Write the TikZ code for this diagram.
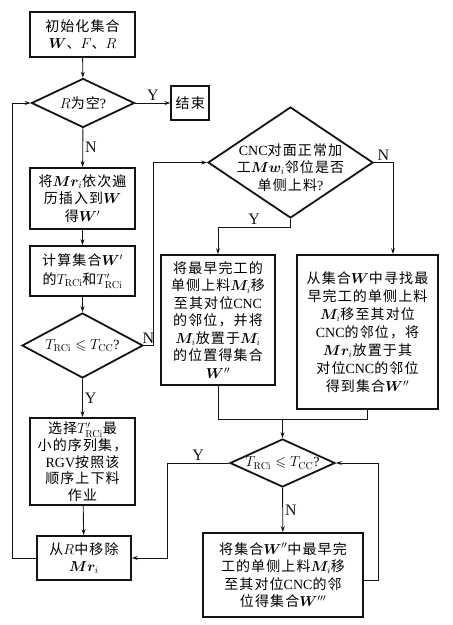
\documentclass[tikz,border=0pt]{standalone}
\usepackage{amsmath,amssymb,bm}
\usepackage[no-math]{fontspec}
\setmainfont[LetterSpace=8]{Noto Sans CJK SC}
\newfontfamily\lat{Liberation Serif}
\usepackage{tikz}
\usetikzlibrary{positioning,arrows.meta,shapes.geometric}
\definecolor{ink}{RGB}{20,20,20}
\newcommand{\boxfont}{\fontsize{14}{17.5}\selectfont}
\newcommand{\CNC}{{\lat CNC}}
\newcommand{\Trc}{T_{\mathrm{RCi}}}

\begin{document}
\begin{tikzpicture}[
  x=1pt, y=-1pt,
  >={Stealth[length=6pt, width=4pt]},
  box/.style={draw=ink, line width=1.8pt, align=center, inner sep=2pt, font=\boxfont},
  dia/.style={diamond, draw=ink, line width=1.8pt, inner sep=0pt},
  txt/.style={align=center, font=\boxfont, inner sep=0pt},
  con/.style={->, line width=0.9pt, ink},
  lin/.style={line width=0.9pt, ink},
  lab/.style={font=\lat\fontsize{16}{18}\selectfont, text=ink, inner sep=2pt},
]
\useasboundingbox (0,0) rectangle (453,625);

% ---- corridors ----
\coordinate (xL) at (12,0);
\coordinate (xM) at (153,0);
\coordinate (xY) at (167,0);
\coordinate (xN) at (393,0);
\coordinate (xR) at (378,0);
\coordinate (yJ) at (0,227);
\coordinate (yM) at (0,419);

% ---- left column ----
\node[box, minimum width=105, minimum height=45] (start) at (82.5,34.5) {%
  初始化集合\\$\bm{W}$、$F$、$R$};
\node[dia, minimum width=103, minimum height=49,
  label={[txt]center:{$R$为空{\lat ?}}}] (d1) at (83,103) {};
\node[box, minimum width=38, minimum height=34, right=35 of d1] (end) {结束};
\node[box, minimum width=105, minimum height=61] (b2) at (82.5,198.5) {%
  将$\bm{Mr}_i$依次遍\\历插入到$\bm{W}$\\得$\bm{W}'$};
\node[box, minimum width=105, minimum height=50] (b3) at (82.5,271) {%
  计算集合$\bm{W}'$\\[1pt]的$\Trc$和$\Trc'$};
\node[dia, minimum width=121, minimum height=65,
  label={[txt]center:{$\Trc\leqslant T_{\mathrm{CC}}${\lat ?}}}] (d2) at (82.5,345.5) {};
\node[box, minimum width=105, minimum height=87, font=\fontsize{14}{16.5}\selectfont] (b4) at (82.5,461.5) {%
  选择$\Trc'$最\\[1pt]小的序列集，\\{\lat RGV}按照该\\顺序上下料\\作业};
\node[box, minimum width=94, minimum height=44] (b5) at (84,558) {%
  从$R$中移除\\$\bm{Mr}_i$};

% ---- right column ----
\node[dia, minimum width=165, minimum height=111,
  label={[txt, yshift=-5pt]center:{\CNC 对面正常加\\工$\bm{Mw}_i$邻位是否\\单侧上料{\lat ?}}}] (d3) at (290.5,162.5) {};
\node[box, minimum width=114, minimum height=130] (b6) at (218,320) {%
  将最早完工的\\单侧上料$\bm{M}_i$移\\至其对位\CNC\\的邻位，并将\\$\bm{M}_i$放置于$\bm{M}_i$\\的位置得集合\\$\bm{W}''$};
\node[box, minimum width=141, minimum height=154, font=\fontsize{14}{18}\selectfont] (b7) at (367.5,332) {%
  从集合$\bm{W}$中寻找最\\早完工的单侧上料\\$\bm{M}_i$移至其对位\\\CNC 的邻位，将\\$\bm{Mr}_i$放置于其\\对位\CNC 的邻位\\得到集合$\bm{W}''$};
\node[dia, minimum width=105, minimum height=48,
  label={[txt]center:{$\Trc\leqslant T_{\mathrm{CC}}${\lat ?}}}] (d4) at (282.5,463) {};
\node[box, minimum width=160, minimum height=84] (b8) at (283,575) {%
  将集合$\bm{W}''$中最早完\\工的单侧上料$\bm{M}_i$移\\至其对位\CNC 的邻\\位得集合$\bm{W}'''$};

% ---- connectors ----
\draw[con] (start) -- (d1);
\draw[con] (d1) -- node[lab, above]{Y} (end);
\draw[con] (d1) -- node[lab, right]{N} (b2);
\draw[con] (b2) -- (b3);
\draw[con] (b3) -- (d2);
\draw[con] (d2) -- node[lab, right]{Y} (b4);
\draw[con] (b4) -- (b5);
\draw[con] (b5.west) -- (b5.west -| xL) |- (d1.west);
\draw[con] (d2.east) -- node[lab, above]{N} (d2.east -| xM) |- (d3.west);
\draw[con] (d3.east) -- node[lab, above]{N} (d3.east -| xN) -- (xN |- b7.north);
\draw[con] (d3.south) -- (d3.south |- yJ) -| node[lab, above, pos=0.25]{Y} (b6.north);
\draw[lin] (b6.south) -- (b6.south |- yM) -- (b7.south |- yM) -- (b7.south);
\draw[con] (d4.north |- yM) -- (d4.north);
\draw[con] (d4.west) -- node[lab, above]{Y} (d4.west -| xY) |- (b5.east);
\draw[con] (d4) -- node[lab, right]{N} (b8);
\draw[con] ([yshift=-5pt]b8.east) -- ([yshift=-5pt]b8.east -| xR) |- (d4.east);

\end{tikzpicture}
\end{document}
